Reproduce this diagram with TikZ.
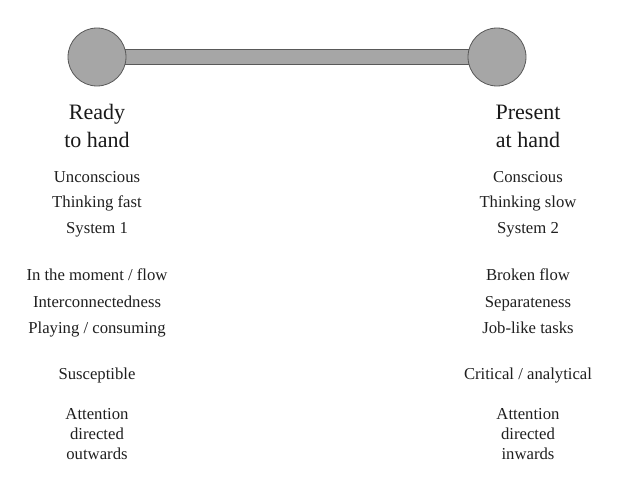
\documentclass[tikz,border=0pt]{standalone}
\usepackage{fontspec}
\setmainfont{Liberation Serif}
\begin{document}
\begin{tikzpicture}[x=1pt,y=-1pt,
  knob/.style={circle,draw=black!65,fill=black!35,line width=0.8pt,minimum size=58pt,inner sep=0pt},
  barstyle/.style={fill=black!35,draw=black!65,line width=0.8pt},
  bigtxt/.style={anchor=base,text=black!90,font=\fontsize{22}{28}\selectfont,inner sep=0pt},
  txt/.style={anchor=base,text=black!88,font=\fontsize{16.7}{20}\selectfont,inner sep=0pt}]
\useasboundingbox (0,0) rectangle (638,479);
\coordinate (cL) at (97,57);
\coordinate (cR) at (497,57);
\draw[barstyle] ([yshift=7.5pt]cL) rectangle ([yshift=-7.5pt]cR);
\node[knob] (L) at (cL) {};
\node[knob] (R) at (cR) {};
% left column
\node[bigtxt] (l1) at (97,119) {Ready};
\node[bigtxt] (l2) at (97,147) {to hand};
\node[txt] (l3) at (97,182) {Unconscious};
\node[txt] (l4) at (97,207) {Thinking fast};
\node[txt] (l5) at (97,233) {System 1};
\node[txt] (l6) at (97,280) {In the moment / flow};
\node[txt] (l7) at (97,307) {Interconnectedness};
\node[txt] (l8) at (97,333) {Playing / consuming};
\node[txt] (l9) at (97,379) {Susceptible};
\node[txt] (l10) at (97,419) {Attention};
\node[txt] (l11) at (97,439) {directed};
\node[txt] (l12) at (97,459) {outwards};
% right column
\node[bigtxt] (r1) at (528,119) {Present};
\node[bigtxt] (r2) at (528,147) {at hand};
\node[txt] (r3) at (528,182) {Conscious};
\node[txt] (r4) at (528,207) {Thinking slow};
\node[txt] (r5) at (528,233) {System 2};
\node[txt] (r6) at (528,280) {Broken flow};
\node[txt] (r7) at (528,307) {Separateness};
\node[txt] (r8) at (528,333) {Job-like tasks};
\node[txt] (r9) at (528,379) {Critical / analytical};
\node[txt] (r10) at (528,419) {Attention};
\node[txt] (r11) at (528,439) {directed};
\node[txt] (r12) at (528,459) {inwards};
\end{tikzpicture}
\end{document}
